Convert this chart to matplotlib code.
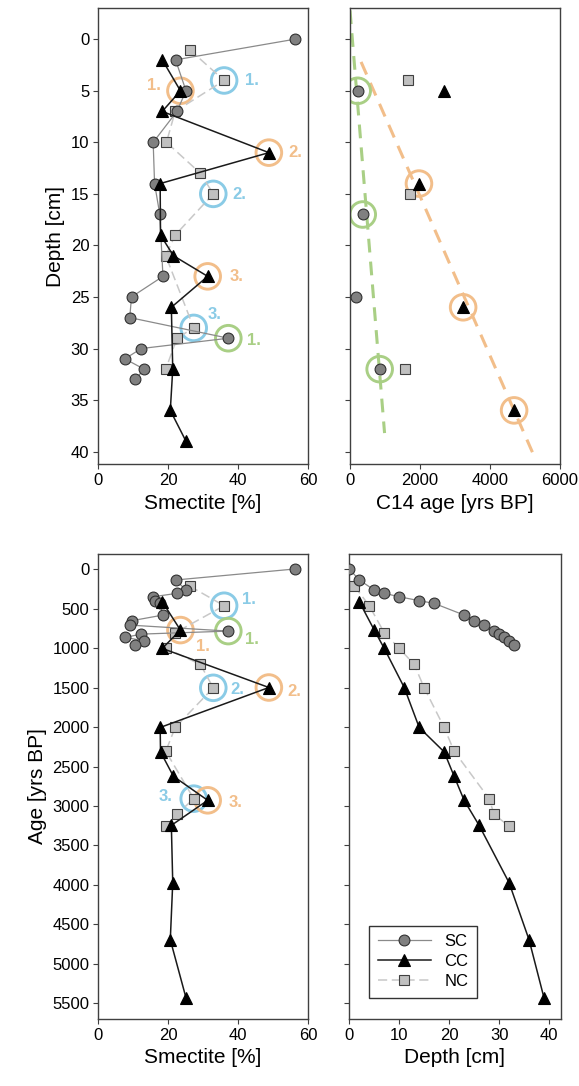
import matplotlib
matplotlib.use("Agg")
import matplotlib.pyplot as plt

plt.rcParams['font.family'] = ['Liberation Sans', 'DejaVu Sans']

# --- smectite profiles (depth, smectite %, modelled age) ---
sc_depth = [0, 2, 5, 7, 10, 14, 17, 23, 25, 27, 29, 30, 31, 32, 33]
sc_smect = [56.2, 22.1, 25.1, 22.5, 15.7, 16.1, 17.6, 18.5, 9.5, 9.0, 37.2, 12.3, 7.6, 13.1, 10.6]
sc_age = [0, 139, 266, 308, 351, 401, 435, 583, 655, 710, 786, 824, 866, 908, 963]

cc_depth = [2, 5, 7, 11, 14, 19, 21, 23, 26, 32, 36, 39]
cc_smect = [18.3, 23.5, 18.3, 48.8, 17.7, 17.8, 21.5, 31.3, 20.9, 21.3, 20.6, 25.1]
cc_age = [414, 773, 1005, 1500, 2006, 2315, 2624, 2928, 3245, 3971, 4693, 5430]

nc_depth = [1, 4, 7, 10, 13, 15, 19, 21, 28, 29, 32]
nc_smect = [26.1, 36.0, 22.0, 19.5, 29.2, 32.9, 22.0, 19.3, 27.3, 22.5, 19.3]
nc_age = [215, 465, 807, 1005, 1208, 1504, 2006, 2307, 2907, 3105, 3257]

# --- C14 dates ---
sc_c14_depth = [5, 17, 25, 32]
sc_c14_age = [220, 365, 170, 850]
nc_c14_depth = [4, 15, 32]
nc_c14_age = [1650, 1715, 1580]
cc_c14_depth = [5, 14, 26, 36]
cc_c14_age = [2705, 1975, 3240, 4700]

# dashed trend lines (end points)
sc_fit_age = [0, 990]
sc_fit_depth = [-2.8, 38.2]
cc_fit_age = [317, 5230]
cc_fit_depth = [2.2, 40.1]

# circled C14 samples (index into the c14 arrays)
circ_sc_c14 = [0, 1, 3]
circ_cc_c14 = [1, 2, 3]

ORANGE = '#F2BE8A'
BLUE = '#8ACBE6'
GREEN = '#A9CF85'

sc_style = dict(color='#8a8a8a', lw=0.9, marker='o', ms=7.8, mfc='#808080', mec='#303030', mew=0.8)
cc_style = dict(color='#1a1a1a', lw=1.1, marker='^', ms=8.6, mfc='black', mec='black', mew=0.8)
nc_style = dict(color='#c8c8c8', lw=1.1, ls=(0, (6, 3)), marker='s', ms=6.8, mfc='#c0c0c0', mec='#404040', mew=0.8)
pt_sc = {k: v for k, v in sc_style.items() if k not in ('color', 'lw', 'ls')}
pt_cc = {k: v for k, v in cc_style.items() if k not in ('color', 'lw', 'ls')}
pt_nc = {k: v for k, v in nc_style.items() if k not in ('color', 'lw', 'ls')}

W, H = 579, 1086
fig = plt.figure(figsize=(W / 100, H / 100), dpi=100)


def rect(x0, x1, y0, y1):
    return [x0 / W, 1 - y1 / H, (x1 - x0) / W, (y1 - y0) / H]


ax1 = fig.add_axes(rect(98.3, 308, 8.3, 464))
ax2 = fig.add_axes(rect(350, 559.5, 8.3, 464))
ax3 = fig.add_axes(rect(98.3, 308, 554, 1018.5))
ax4 = fig.add_axes(rect(349.3, 560.5, 554, 1018.5))

for ax in (ax1, ax2, ax3, ax4):
    for s in ax.spines.values():
        s.set_color('#404040')
        s.set_linewidth(1.0)
    ax.tick_params(direction='out', length=3.5, width=0.8, color='#404040', labelsize=12, pad=3)


def ring(ax, x, y, col):
    ax.scatter([x], [y], s=340, facecolors='none', edgecolors=col, linewidths=2.1, zorder=1)


def tag(ax, x, y, txt, col, dx, dy):
    ax.annotate(txt, (x, y), xytext=(dx / 1.389, -dy / 1.389), textcoords='offset points',
                ha='center', va='center', color=col, fontsize=12, fontweight='bold', zorder=5)


# ---------- top left: smectite vs depth ----------
ax1.plot(sc_smect, sc_depth, zorder=3, **sc_style)
ax1.plot(nc_smect, nc_depth, zorder=2, **nc_style)
ax1.plot(cc_smect, cc_depth, zorder=4, **cc_style)
ring(ax1, cc_smect[1], cc_depth[1], ORANGE); tag(ax1, cc_smect[1], cc_depth[1], '1.', ORANGE, -26, -5)
ring(ax1, nc_smect[1], nc_depth[1], BLUE); tag(ax1, nc_smect[1], nc_depth[1], '1.', BLUE, 28, 0)
ring(ax1, cc_smect[3], cc_depth[3], ORANGE); tag(ax1, cc_smect[3], cc_depth[3], '2.', ORANGE, 26, 0)
ring(ax1, nc_smect[5], nc_depth[5], BLUE); tag(ax1, nc_smect[5], nc_depth[5], '2.', BLUE, 26, 1)
ring(ax1, cc_smect[7], cc_depth[7], ORANGE); tag(ax1, cc_smect[7], cc_depth[7], '3.', ORANGE, 29, 0)
ring(ax1, nc_smect[8], nc_depth[8], BLUE); tag(ax1, nc_smect[8], nc_depth[8], '3.', BLUE, 21, -13)
ring(ax1, sc_smect[10], sc_depth[10], GREEN); tag(ax1, sc_smect[10], sc_depth[10], '1.', GREEN, 26, 2)
ax1.set_xlim(0, 60)
ax1.set_ylim(41.2, -3)
ax1.set_xticks([0, 20, 40, 60])
ax1.set_yticks(range(0, 45, 5))
ax1.set_xlabel('Smectite [%]', fontsize=15)
ax1.set_ylabel('Depth [cm]', fontsize=15)

# ---------- top right: C14 age vs depth ----------
ax2.plot(sc_fit_age, sc_fit_depth, color=GREEN, lw=2.2, dashes=(4.5, 3), zorder=1)
ax2.plot(cc_fit_age, cc_fit_depth, color=ORANGE, lw=2.2, dashes=(4.5, 3), zorder=1)
for i in circ_sc_c14:
    ring(ax2, sc_c14_age[i], sc_c14_depth[i], GREEN)
for i in circ_cc_c14:
    ring(ax2, cc_c14_age[i], cc_c14_depth[i], ORANGE)
ax2.plot(sc_c14_age, sc_c14_depth, ls='none', zorder=3, **pt_sc)
ax2.plot(nc_c14_age, nc_c14_depth, ls='none', zorder=3, **pt_nc)
ax2.plot(cc_c14_age, cc_c14_depth, ls='none', zorder=3, **pt_cc)
ax2.set_xlim(0, 6000)
ax2.set_ylim(41.2, -3)
ax2.set_xticks([0, 2000, 4000, 6000])
ax2.set_yticks(range(0, 45, 5))
ax2.tick_params(labelleft=False)
ax2.set_xlabel('C14 age [yrs BP]', fontsize=15)

# ---------- bottom left: smectite vs age ----------
ax3.plot(sc_smect, sc_age, zorder=3, **sc_style)
ax3.plot(nc_smect, nc_age, zorder=2, **nc_style)
ax3.plot(cc_smect, cc_age, zorder=4, **cc_style)
ring(ax3, nc_smect[1], nc_age[1], BLUE); tag(ax3, nc_smect[1], nc_age[1], '1.', BLUE, 25, -6)
ring(ax3, sc_smect[10], sc_age[10], GREEN); tag(ax3, sc_smect[10], sc_age[10], '1.', GREEN, 24, 8)
ring(ax3, cc_smect[1], cc_age[1], ORANGE); tag(ax3, cc_smect[1], cc_age[1], '1.', ORANGE, 23, 16)
ring(ax3, nc_smect[5], nc_age[5], BLUE); tag(ax3, nc_smect[5], nc_age[5], '2.', BLUE, 24, 2)
ring(ax3, cc_smect[3], cc_age[3], ORANGE); tag(ax3, cc_smect[3], cc_age[3], '2.', ORANGE, 25, 4)
ring(ax3, nc_smect[8], nc_age[8], BLUE); tag(ax3, nc_smect[8], nc_age[8], '3.', BLUE, -28, -2)
ring(ax3, cc_smect[7], cc_age[7], ORANGE); tag(ax3, cc_smect[7], cc_age[7], '3.', ORANGE, 28, 2)
ax3.set_xlim(0, 60)
ax3.set_ylim(5690, -190)
ax3.set_xticks([0, 20, 40, 60])
ax3.set_yticks(range(0, 6000, 500))
ax3.set_xlabel('Smectite [%]', fontsize=15)
ax3.set_ylabel('Age [yrs BP]', fontsize=15)

# ---------- bottom right: age vs depth ----------
ax4.plot(sc_depth, sc_age, zorder=3, label='SC', **sc_style)
ax4.plot(cc_depth, cc_age, zorder=4, label='CC', **cc_style)
ax4.plot(nc_depth, nc_age, zorder=2, label='NC', **nc_style)
ax4.set_xlim(0, 42.3)
ax4.set_ylim(5690, -190)
ax4.set_xticks([0, 10, 20, 30, 40])
ax4.set_yticks(range(0, 6000, 500))
ax4.tick_params(labelleft=False)
ax4.set_xlabel('Depth [cm]', fontsize=15)
leg = ax4.legend(loc='lower left', bbox_to_anchor=(0.095, 0.045), borderaxespad=0,
                 fontsize=12, handlelength=3.2, fancybox=False, framealpha=1,
                 edgecolor='#333333', labelspacing=0.3, borderpad=0.5)
leg.get_frame().set_linewidth(1.0)

fig.savefig('out.png', dpi=100)
